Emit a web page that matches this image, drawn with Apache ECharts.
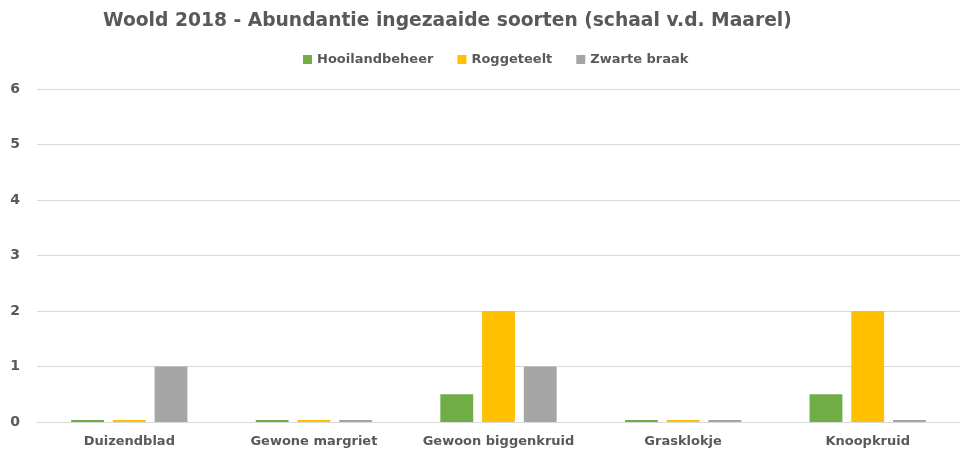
<!DOCTYPE html>
<html><head><meta charset="utf-8">
<script src="https://cdn.jsdelivr.net/npm/echarts@6/dist/echarts.min.js"></script>
<style>html,body{margin:0;padding:0;background:#fff}#c{width:963px;height:452px}</style>
</head><body><div id="c"></div>
<script>
const categories = ['Duizendblad','Gewone margriet','Gewoon biggenkruid','Grasklokje','Knoopkruid'];
const seriesNames = ['Hooilandbeheer','Roggeteelt','Zwarte braak'];
const hooiland = [0, 0, 0.5, 0, 0.5];
const rogge = [0, 0, 2, 0, 2];
const zwart = [1, 0, 1, 0, 0];
const yTicks = [0,1,2,3,4,5,6];
const colors = ['#70ad47','#ffc000','#a5a5a5'];
const values = [hooiland, rogge, zwart];

const chart = echarts.init(document.getElementById('c'));
const font = '"DejaVu Sans", Verdana, sans-serif';
chart.setOption({
  animation:false,
  title:{text:'Woold 2018 - Abundantie ingezaaide soorten (schaal v.d. Maarel)',left:98,top:7,
    textStyle:{fontFamily:font,fontSize:18.7,fontWeight:'bold',color:'#595959'}},
  legend:{data:seriesNames,left:298,top:48,icon:'rect',itemWidth:9,itemHeight:9,itemGap:24,itemStyle:{borderWidth:0},
    textStyle:{fontFamily:font,fontSize:13,fontWeight:'bold',color:'#595959'}},
  grid:{left:37,right:3,top:89,bottom:30,containLabel:false},
  xAxis:{type:'category',data:categories,axisLine:{lineStyle:{color:'#d9d9d9'}},axisTick:{show:false},
    axisLabel:{interval:0,fontFamily:font,fontSize:13,fontWeight:'bold',color:'#595959',margin:13}},
  yAxis:{type:'value',min:yTicks[0],max:yTicks[yTicks.length-1],interval:1,
    axisLabel:{fontFamily:font,fontSize:14,fontWeight:'bold',color:'#595959',margin:17},
    splitLine:{lineStyle:{color:'#d9d9d9'}},axisLine:{show:false},axisTick:{show:false}},
  series:seriesNames.map((n,i)=>({name:n,type:'bar',data:values[i],barGap:'27%',barCategoryGap:'37%',
    barMinHeight:2,itemStyle:{color:colors[i]}}))
});
</script></body></html>
